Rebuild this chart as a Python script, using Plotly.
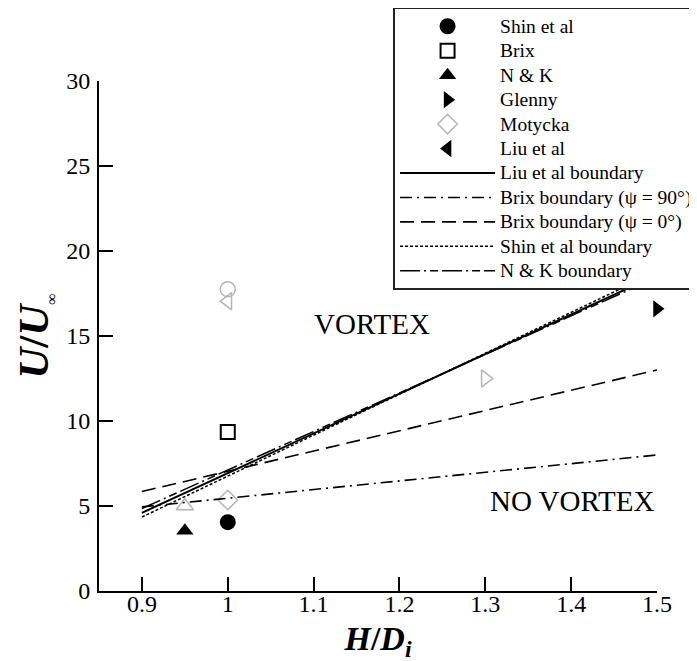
import plotly.graph_objects as go

# ---------------- data ----------------
shin_x, shin_y = [1.0], [4.05]
brix_x, brix_y = [1.0], [9.35]
nk_x, nk_y = [0.95], [3.55]
glenny_x, glenny_y = [1.5], [16.6]
motycka_x, motycka_y = [1.0], [5.35]
liu_x = [1.0, 1.0, 0.95, 1.3]
liu_y = [17.75, 17.05, 5.0, 12.5]
liu_symbols = ["circle-open", "triangle-left-open", "triangle-up-open", "triangle-right-open"]

bound_x = [0.9, 1.5]
liu_boundary = [4.6, 18.6]
brix90_boundary = [4.95, 8.0]
brix0_boundary = [5.85, 13.0]
shin_boundary = [4.35, 18.8]
nk_boundary = [4.85, 18.45]

x_ticks = [0.9, 1.0, 1.1, 1.2, 1.3, 1.4, 1.5]
x_ticklabels = ["0.9", "1", "1.1", "1.2", "1.3", "1.4", "1.5"]
y_ticks = [0, 5, 10, 15, 20, 25, 30]

region_labels = ["VORTEX", "NO VORTEX"]
region_x = [1.168, 1.402]
region_y = [15.7, 5.28]

SERIF = "Liberation Serif"
GRAY = "#b5b5b5"


def lg(name):
    # legend label drawn slightly larger than the legend's row pitch font
    return '<span style="font-size:19.5px">' + name + '</span>'


fig = go.Figure()

# markers (legend entries)
fig.add_trace(go.Scatter(x=shin_x, y=shin_y, mode="markers", name=lg("Shin et al"), cliponaxis=False,
                         marker=dict(symbol="circle", size=16, color="black")))
fig.add_trace(go.Scatter(x=brix_x, y=brix_y, mode="markers", name=lg("Brix"), cliponaxis=False,
                         marker=dict(symbol="square-open", size=14, color="black",
                                     line=dict(width=2, color="black"))))
fig.add_trace(go.Scatter(x=nk_x, y=nk_y, mode="markers", name=lg("N &amp; K"), cliponaxis=False,
                         marker=dict(symbol="triangle-up", size=15, color="black")))
fig.add_trace(go.Scatter(x=glenny_x, y=glenny_y, mode="markers", name=lg("Glenny"), cliponaxis=False,
                         marker=dict(symbol="triangle-right", size=15, color="black")))
fig.add_trace(go.Scatter(x=motycka_x, y=motycka_y, mode="markers", name=lg("Motycka"), cliponaxis=False,
                         marker=dict(symbol="diamond-open", size=15, color=GRAY,
                                     line=dict(width=1.5, color=GRAY))))
# Liu et al legend entry (filled black), points drawn gray/open as in the figure
fig.add_trace(go.Scatter(x=[None], y=[None], mode="markers", name=lg("Liu et al"),
                         marker=dict(symbol="triangle-left", size=15, color="black")))
fig.add_trace(go.Scatter(x=liu_x, y=liu_y, mode="markers", showlegend=False, cliponaxis=False,
                         marker=dict(symbol=liu_symbols, size=15, color=GRAY,
                                     line=dict(width=1.5, color=GRAY))))

# boundary lines
fig.add_trace(go.Scatter(x=bound_x, y=liu_boundary, mode="lines", name=lg("Liu et al boundary"),
                         line=dict(color="black", width=2, dash="solid")))
fig.add_trace(go.Scatter(x=bound_x, y=brix90_boundary, mode="lines",
                         name=lg("Brix boundary (\u03c8 = 90\u00b0)"),
                         line=dict(color="black", width=1.6, dash="12px,5px,2px,5px")))
fig.add_trace(go.Scatter(x=bound_x, y=brix0_boundary, mode="lines",
                         name=lg("Brix boundary (\u03c8 = 0\u00b0)"),
                         line=dict(color="black", width=1.6, dash="14px,7px")))
fig.add_trace(go.Scatter(x=bound_x, y=shin_boundary, mode="lines", name=lg("Shin et al boundary"),
                         line=dict(color="black", width=1.5, dash="3px,2px")))
fig.add_trace(go.Scatter(x=bound_x, y=nk_boundary, mode="lines", name=lg("N &amp; K boundary"),
                         line=dict(color="black", width=1.5, dash="20px,4px,2px,4px,8px,4px")))

for txt, xx, yy in zip(region_labels, region_x, region_y):
    fig.add_annotation(x=xx, y=yy, text=txt, showarrow=False, xref="x", yref="y",
                       font=dict(family=SERIF, size=29, color="black"))

fig.update_xaxes(range=[0.85, 1.5], tickvals=x_ticks, ticktext=x_ticklabels,
                 showgrid=False, zeroline=False, showline=True, linecolor="black", linewidth=2,
                 ticks="inside", ticklen=14, tickwidth=2, tickcolor="black",
                 ticklabelstandoff=-10, automargin=False,
                 tickfont=dict(family=SERIF, size=24, color="black"),
                 title=dict(text="<b><i>H</i>/<i>D<sub>i</sub></i></b>", standoff=10,
                            font=dict(family=SERIF, size=34, color="black")))
fig.update_yaxes(range=[0, 30], tickvals=y_ticks,
                 showgrid=False, zeroline=False, showline=True, linecolor="black", linewidth=2,
                 ticks="inside", ticklen=14, tickwidth=2, tickcolor="black",
                 ticklabelstandoff=2, automargin=False,
                 tickfont=dict(family=SERIF, size=24, color="black"),
                 title=dict(text='<b><i>U</i>/<i>U</i></b><sub><span style="font-size:16px">\u221e</span></sub>',
                            standoff=4,
                            font=dict(family=SERIF, size=43, color="black")))

fig.update_layout(
    width=697, height=661,
    margin=dict(l=91, r=48, t=73, b=78, autoexpand=False),
    font=dict(family=SERIF, color="black"),
    plot_bgcolor="white", paper_bgcolor="white",
    showlegend=True,
    legend=dict(x=0.527, y=1.145, xanchor="left", yanchor="top",
                bgcolor="white", bordercolor="#222", borderwidth=2,
                font=dict(family=SERIF, size=16.5, color="black"),
                itemwidth=95, tracegroupgap=0),
)

fig.write_html("out.html")
